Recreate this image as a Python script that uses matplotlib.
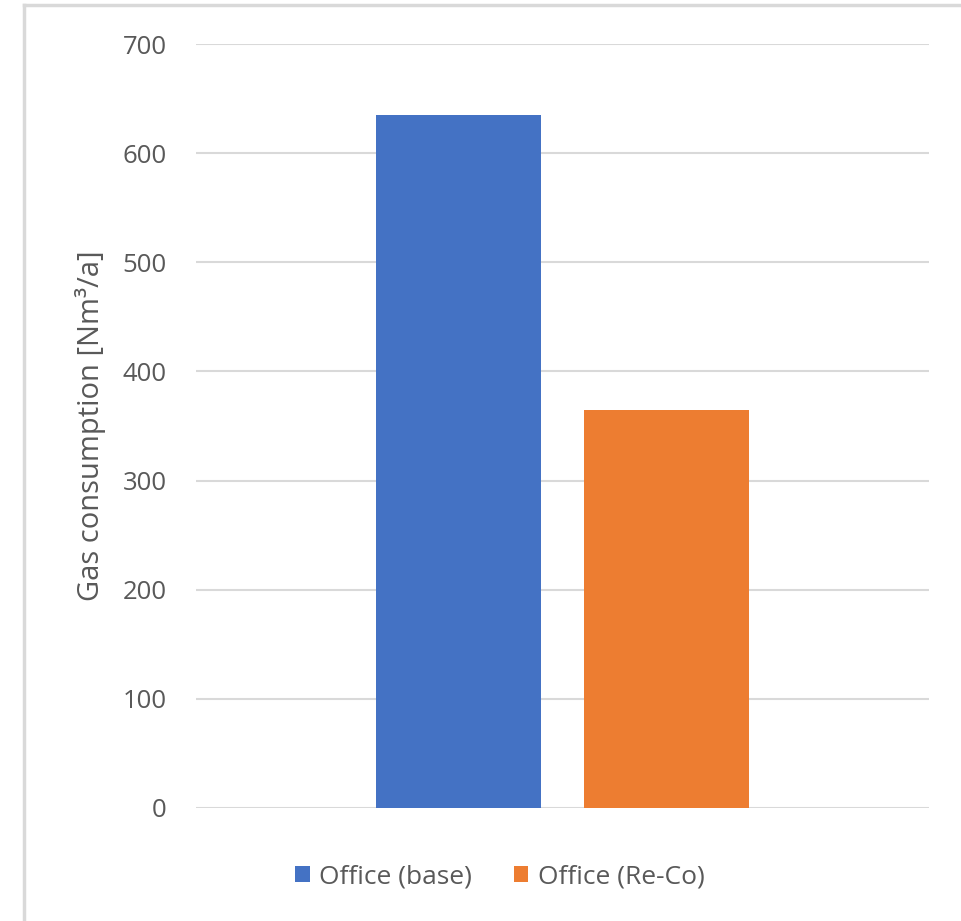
import matplotlib.pyplot as plt

series = ["Office (base)", "Office (Re-Co)"]
values = [635, 365]
colors = ["#4472c4", "#ed7d31"]
offsets = [-0.1415, 0.1415]
yticks = [0, 100, 200, 300, 400, 500, 600, 700]

plt.rcParams['font.family'] = ['Open Sans', 'DejaVu Sans']

fig = plt.figure(figsize=(9.61, 9.21), dpi=100)
ax = fig.add_axes([0.204, 0.1227, 0.7627, 0.8295])

for name, v, c, off in zip(series, values, colors, offsets):
    ax.bar(off, v, width=0.225, color=c, label=name, zorder=3)

ax.set_xlim(-0.5, 0.5)
ax.set_ylim(0, 700)
ax.set_yticks(yticks)
ax.set_xticks([])
ax.yaxis.grid(True, color="#d9d9d9", linewidth=1.5, zorder=0)
for s in ax.spines.values():
    s.set_visible(False)
ax.tick_params(axis='y', length=0, pad=21, labelsize=18.5, labelcolor="#595959")
ax.set_ylabel("Gas consumption [Nm³/a]", fontsize=21, color="#595959", labelpad=12)

ax.legend(loc='center', bbox_to_anchor=(0.52, 0.048), bbox_transform=fig.transFigure,
          ncol=2, frameon=False, fontsize=19, labelcolor="#595959",
          handlelength=0.55, handleheight=0.55, handletextpad=0.35, columnspacing=1.6)

# chart border (left and top edges visible)
fig.add_artist(plt.Line2D([0.0245, 0.0245], [0, 0.9945], color="#d9d9d9", linewidth=2.5,
                          transform=fig.transFigure))
fig.add_artist(plt.Line2D([0.0245, 1.0], [0.9945, 0.9945], color="#d9d9d9", linewidth=2.5,
                          transform=fig.transFigure))

fig.savefig("out.png", dpi=100)
